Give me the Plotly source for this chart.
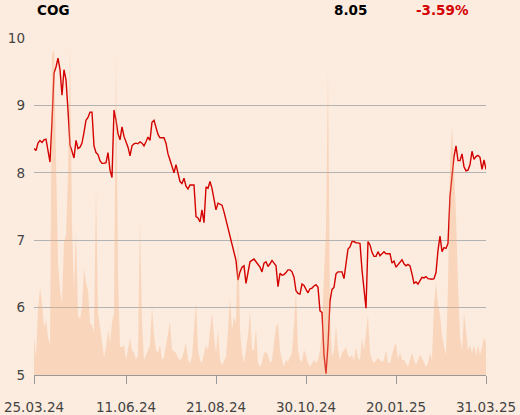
import plotly.graph_objects as go

# Closing prices (one value per trading-day slot, 25.03.24 .. 31.03.25)
price = [
    8.36, 8.33, 8.44, 8.48, 8.45, 8.49, 8.50, 8.35, 8.16, 8.75,
    9.48, 9.57, 9.70, 9.53, 9.15, 9.53, 9.38, 8.93, 8.41, 8.32,
    8.22, 8.48, 8.36, 8.38, 8.44, 8.60, 8.78, 8.82, 8.90, 8.90,
    8.40, 8.30, 8.27, 8.18, 8.14, 8.14, 8.15, 8.30, 8.04, 7.93,
    8.93, 8.78, 8.58, 8.49, 8.68, 8.54, 8.46, 8.38, 8.25, 8.40,
    8.43, 8.44, 8.43, 8.46, 8.44, 8.40, 8.46, 8.53, 8.48, 8.75,
    8.78, 8.68, 8.57, 8.52, 8.52, 8.52, 8.44, 8.28, 8.19, 8.10,
    8.00, 8.12, 7.97, 7.87, 7.84, 7.92, 7.80, 7.76, 7.82, 7.82,
    7.82, 7.35, 7.33, 7.27, 7.45, 7.26, 7.79, 7.77, 7.87, 7.77,
    7.62, 7.45, 7.55, 7.54, 7.52, 7.42, 7.30, 7.18, 7.03, 6.92,
    6.81, 6.70, 6.41, 6.53, 6.60, 6.62, 6.36, 6.50, 6.68, 6.70,
    6.72, 6.68, 6.64, 6.60, 6.53, 6.66, 6.68, 6.61, 6.65, 6.70,
    6.66, 6.62, 6.31, 6.51, 6.48, 6.49, 6.52, 6.56, 6.56, 6.53,
    6.45, 6.25, 6.21, 6.20, 6.35, 6.33, 6.27, 6.22, 6.28, 6.29,
    6.32, 6.34, 6.30, 5.95, 5.93, 5.30, 5.02, 5.45, 6.10, 6.27,
    6.30, 6.50, 6.53, 6.53, 6.53, 6.43, 6.66, 6.87, 6.90, 6.98,
    6.98, 6.96, 6.96, 6.95, 6.56, 6.30, 5.99, 6.98, 6.93, 6.82,
    6.76, 6.76, 6.83, 6.77, 6.80, 6.83, 6.80, 6.80, 6.80, 6.66,
    6.69, 6.60, 6.64, 6.67, 6.71, 6.65, 6.62, 6.64, 6.62, 6.50,
    6.36, 6.38, 6.35, 6.40, 6.45, 6.44, 6.46, 6.43, 6.42, 6.42,
    6.43, 6.52, 6.85, 7.06, 6.83, 6.89, 6.88, 6.95, 7.65, 7.98,
    8.24, 8.40, 8.18, 8.18, 8.28, 8.09, 8.03, 8.04, 8.12, 8.32,
    8.20, 8.24, 8.26, 8.23, 8.05, 8.19, 8.05,
]

# Traded volume (thousands of shares, same slots)
volume = [
    38, 18, 65, 87, 72, 48, 55, 38, 30, 320,
    325, 212, 112, 85, 72, 132, 140, 200, 328, 150,
    85, 145, 60, 56, 68, 107, 92, 85, 52, 50,
    42, 188, 62, 48, 30, 18, 28, 45, 32, 52,
    62, 322, 100, 28, 28, 30, 15, 25, 37, 25,
    22, 15, 20, 155, 52, 15, 20, 23, 30, 68,
    40, 25, 22, 30, 15, 18, 30, 45, 53, 25,
    23, 22, 17, 15, 17, 25, 32, 15, 12, 18,
    45, 73, 25, 15, 12, 22, 30, 25, 45, 63,
    38, 22, 45, 15, 10, 15, 18, 45, 77, 45,
    58, 52, 148, 45, 22, 12, 25, 40, 65, 25,
    25, 47, 12, 8, 12, 22, 23, 20, 12, 15,
    32, 48, 52, 25, 15, 8, 15, 13, 18, 22,
    50, 85, 25, 15, 13, 25, 20, 12, 8, 12,
    15, 12, 15, 25, 45, 100, 145, 307, 60, 18,
    25, 50, 25, 15, 22, 25, 28, 20, 17, 20,
    15, 28, 17, 15, 37, 25, 45, 60, 22, 15,
    12, 15, 17, 15, 13, 15, 25, 12, 12, 20,
    28, 32, 15, 23, 15, 15, 12, 8, 15, 22,
    15, 10, 15, 20, 17, 12, 8, 12, 22, 15,
    70, 92, 70, 60, 40, 28, 20, 90, 212, 250,
    210, 160, 90, 38, 25, 62, 45, 25, 30, 22,
    30, 20, 30, 20, 28, 38, 32,
]

tick_index = [0, 46, 91, 136, 181, 226]
tick_labels = ["25.03.24", "11.06.24", "21.08.24", "30.10.24", "20.01.25", "31.03.25"]
y_ticks = [5, 6, 7, 8, 9, 10]

symbol = "COG"
last_price = "8.05"
change = "-3.59%"

idx = list(range(len(price)))

BG = "#fcecdf"
FONT = "DejaVu Sans"

fig = go.Figure()
fig.add_trace(go.Scatter(
    x=idx, y=volume, yaxis="y2", mode="lines",
    line=dict(width=0, color="rgba(243,170,120,0)"),
    fill="tozeroy", fillcolor="rgba(243,170,120,0.34)",
    hoverinfo="skip", showlegend=False,
))
fig.add_trace(go.Scatter(
    x=idx, y=price, mode="lines",
    line=dict(color="#d40000", width=1.4),
    showlegend=False,
))

fig.update_layout(
    width=520, height=415,
    margin=dict(l=34, r=34, t=38, b=40, autoexpand=False),
    paper_bgcolor=BG, plot_bgcolor=BG,
    font=dict(family=FONT, size=13.5, color="#444444"),
    hovermode=False,
    xaxis=dict(
        range=[0, len(price) - 1], automargin=False,
        tickmode="array", tickvals=tick_index, ticktext=tick_labels,
        showgrid=False, zeroline=False,
        showline=True, linecolor="#999999", linewidth=1,
        ticks="outside", ticklen=8, tickcolor="#999999", tickwidth=1,
        ticklabelstandoff=12,
        tickfont=dict(family=FONT, size=13.5, color="#444444"),
    ),
    yaxis=dict(
        range=[5, 10], tickmode="array", tickvals=y_ticks, automargin=False,
        showgrid=True, gridcolor="#b3b3b3", gridwidth=1,
        zeroline=False, showline=False, ticks="",
        ticklabelstandoff=8,
        tickfont=dict(family=FONT, size=13.5, color="#444444"),
    ),
    yaxis2=dict(
        overlaying="y", range=[0, 337], visible=False, automargin=False,
    ),
    annotations=[
        dict(text="<b>" + symbol + "</b>", xref="paper", yref="paper",
             x=0.002, y=1.083, xanchor="left", yanchor="middle",
             showarrow=False, font=dict(family=FONT, size=13.5, color="#000000")),
        dict(text="<b>" + last_price + "</b>", xref="paper", yref="paper",
             x=0.659, y=1.083, xanchor="left", yanchor="middle",
             showarrow=False, font=dict(family=FONT, size=13.5, color="#000000")),
        dict(text="<b>" + change + "</b>", xref="paper", yref="paper",
             x=0.841, y=1.083, xanchor="left", yanchor="middle",
             showarrow=False, font=dict(family=FONT, size=13.5, color="#d40000")),
    ],
)

fig.write_html(
    "out.html",
    config={"displayModeBar": False, "staticPlot": True},
    post_script=(
        "document.body.style.margin='0';"
        "document.body.style.background='" + BG + "';"
        "document.body.style.overflow='hidden';"
        "window.scrollTo(0,0);"
        "Plotly.relayout('{plot_id}', {'xaxis.ticklen': 8});"
    ),
)
